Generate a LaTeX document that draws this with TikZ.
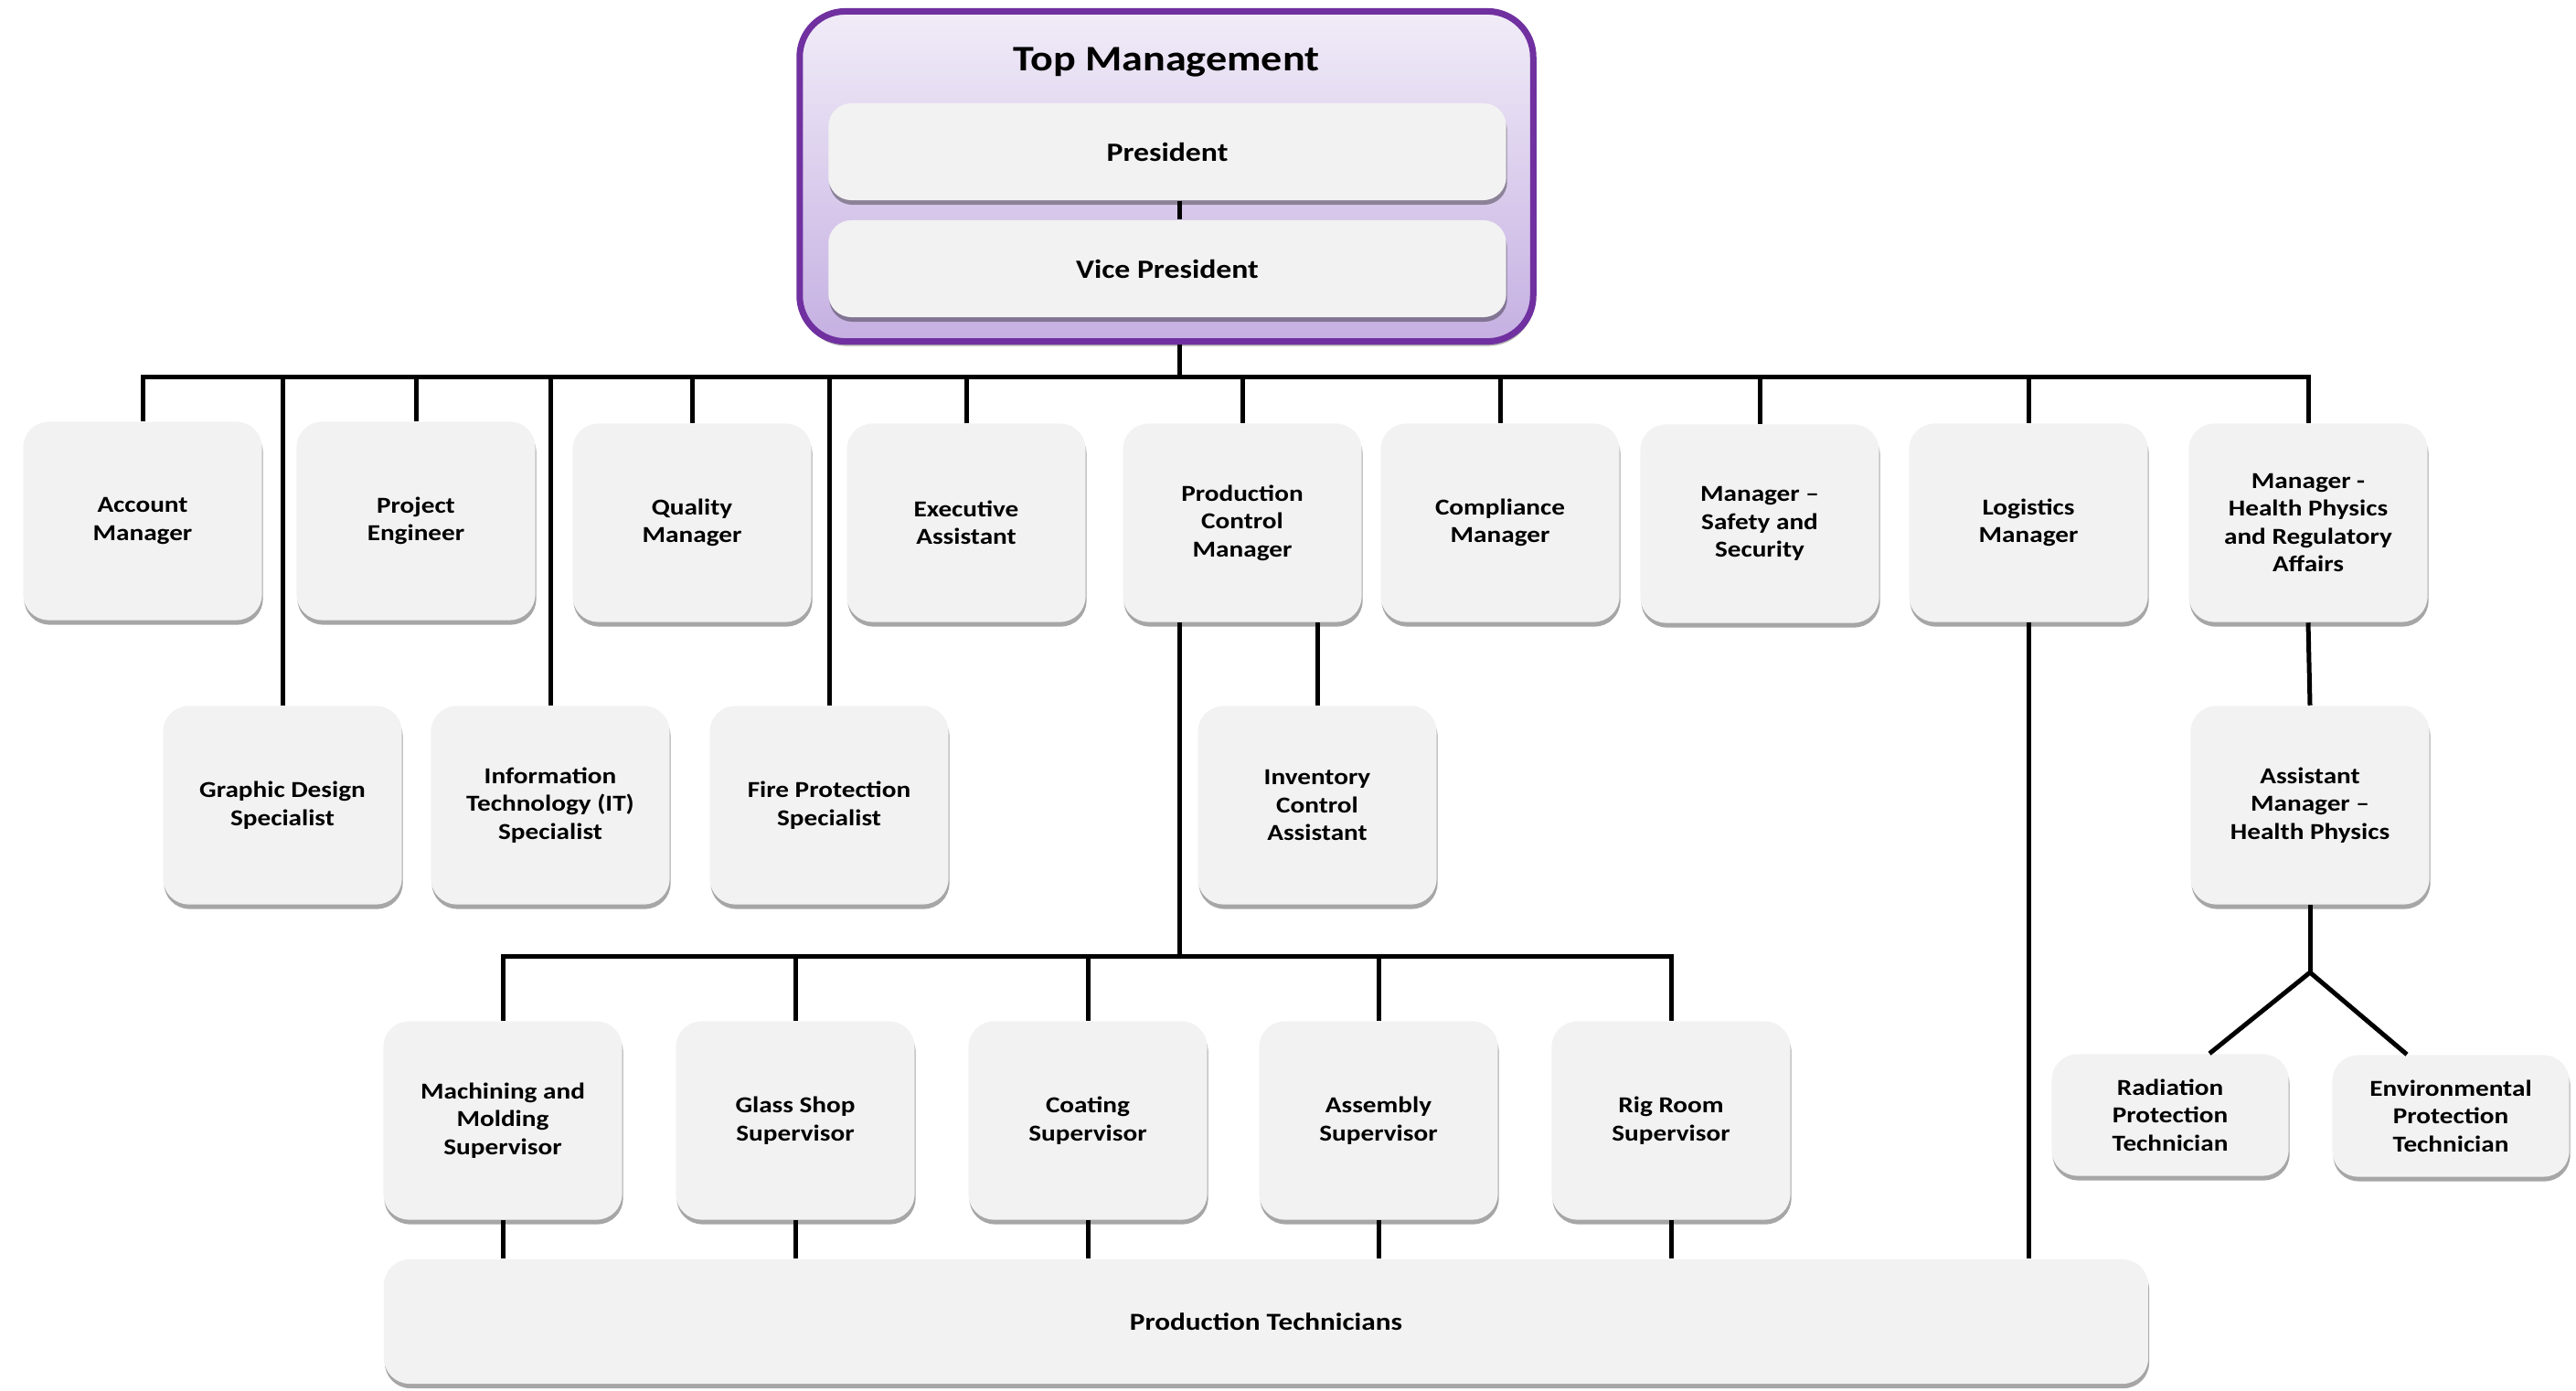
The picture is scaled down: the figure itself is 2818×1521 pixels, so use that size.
\documentclass[tikz,border=0pt]{standalone}
\usepackage{fontspec}
\setmainfont{Carlito}[FakeStretch=1.17]
\usetikzlibrary{shadows}
\definecolor{boxgray}{HTML}{F2F2F2}
\definecolor{toppurple}{HTML}{7030A0}
\definecolor{toplight}{HTML}{F1ECF8}
\definecolor{topdark}{HTML}{C5B0E2}
\tikzset{
  post/.style={fill=boxgray, rounded corners=0.28cm, minimum width=2.61cm, minimum height=2.17cm,
    align=center, inner sep=1pt, font=\bfseries\fontsize{7.1}{8.7}\selectfont,
    drop shadow={shadow xshift=0.01cm, shadow yshift=-0.05cm, opacity=0.35, fill=black}},
  tech/.style={post, minimum width=2.59cm, minimum height=1.33cm},
  head/.style={post, minimum width=7.41cm, minimum height=1.06cm, rounded corners=0.25cm,
    font=\bfseries\fontsize{8.2}{10}\selectfont},
  link/.style={line width=0.05cm},
}

\begin{document}
\begin{tikzpicture}[x=0.01cm, y=-0.01cm]
			%%%%% START %%%%%
			\useasboundingbox (0, 0) rectangle (2818, 1521);
			
			\node[draw=toppurple, line width=0.07cm, rounded corners=0.5cm, top color=toplight, bottom color=topdark,
			  minimum width=8.02cm, minimum height=3.61cm,
			  drop shadow={shadow xshift=0.01cm, shadow yshift=-0.05cm, opacity=0.3, fill=black}] (top) at (1276, 193) {};
			\node[font=\bfseries\fontsize{11.2}{13}\selectfont] (toplabel) at (1276, 68) {Top Management};
			\node[head] (pres) at (1277, 166) {President};
			\node[head] (vp) at (1277, 294) {Vice President};
			
			\coordinate (spine) at (1290, 0);
			\coordinate (bus) at (0, 412);
			\coordinate (bus2) at (0, 1046);
			\coordinate (fork) at (2527, 1064);
			
			% first row
			\node[post] (acct) at (156, 570) {Account\\Manager};
			\node[post] (proj) at (455, 570) {Project\\Engineer};
			\node[post] (qual) at (757, 572) {Quality\\Manager};
			\node[post] (exec) at (1057, 572) {Executive\\Assistant};
			\node[post] (pcm) at (1359, 572) {Production\\Control\\Manager};
			\node[post] (comp) at (1641, 572) {Compliance\\Manager};
			\node[post] (safe) at (1925, 573) {Manager –\\Safety and\\Security};
			\node[post] (logi) at (2219, 572) {Logistics\\Manager};
			\node[post] (health) at (2525, 572) {Manager -\\Health Physics\\and Regulatory\\Affairs};
			
			% second row
			\node[post] (gds) at (309, 881) {Graphic Design\\Specialist};
			\node[post] (its) at (602, 881) {Information\\Technology (IT)\\Specialist};
			\node[post] (fps) at (907, 881) {Fire Protection\\Specialist};
			\node[post] (inv) at (1441, 881) {Inventory\\Control\\Assistant};
			\node[post] (amhp) at (2527, 881) {Assistant\\Manager –\\Health Physics};
			
			% supervisors
			\node[post] (mms) at (550, 1226) {Machining and\\Molding\\Supervisor};
			\node[post] (gss) at (870, 1226) {Glass Shop\\Supervisor};
			\node[post] (cos) at (1190, 1226) {Coating\\Supervisor};
			\node[post] (asm) at (1508, 1226) {Assembly\\Supervisor};
			\node[post] (rig) at (1828, 1226) {Rig Room\\Supervisor};
			
			\node[tech] (rpt) at (2374, 1220) {Radiation\\Protection\\Technician};
			\node[tech] (ept) at (2681, 1221) {Environmental\\Protection\\Technician};
			
			\node[post, minimum width=19.29cm, minimum height=1.36cm, font=\bfseries\fontsize{7.6}{9}\selectfont] (prod) at (1385, 1446) {Production Technicians};
			
			% connectors
			\draw[link] (pres.south -| spine) -- (vp.north -| spine);
			\draw[link] (top.south -| spine) -- (spine |- bus);
			\draw[link] (acct.north) -- (acct.north |- bus) -- (health.north |- bus) -- (health.north);
			\foreach \n in {proj,qual,exec,pcm,comp,safe,logi,gds,its,fps}
			  \draw[link] (\n.north) -- (\n.north |- bus);
			\draw[link] (inv.north) -- (inv.north |- pcm.south);
			\draw[link] (pcm.south -| spine) -- (spine |- bus2);
			\draw[link] (mms.north) -- (mms.north |- bus2) -- (rig.north |- bus2) -- (rig.north);
			\foreach \n in {gss,cos,asm}
			  \draw[link] (\n.north) -- (\n.north |- bus2);
			\foreach \n in {mms,gss,cos,asm,rig,logi}
			  \draw[link] (\n.south) -- (\n.south |- prod.north);
			\draw[link] (health.south) -- (amhp.north);
			\draw[link] (amhp.south) -- (fork);
			\draw[link] ([xshift=0.43cm]rpt.north) -- (fork) -- ([xshift=-0.48cm]ept.north);
			
			%%%%% END %%%%%
\end{tikzpicture}
\end{document}
